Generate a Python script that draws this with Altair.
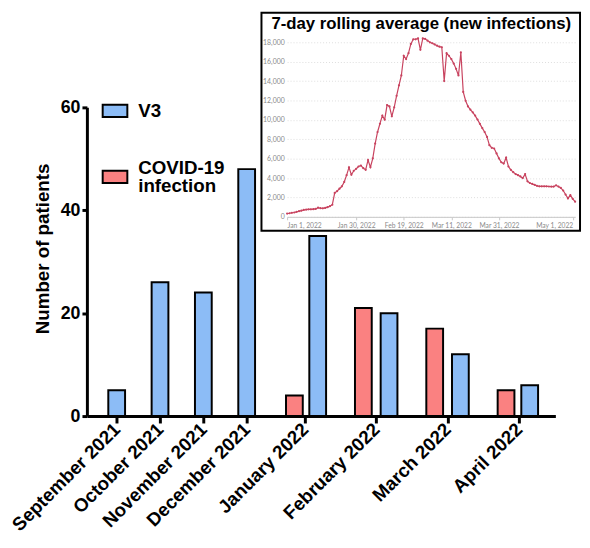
import json
import altair as alt
import pandas as pd

# ---------------- main bar chart data ----------------
months = ["September 2021", "October 2021", "November 2021", "December 2021",
          "January 2022", "February 2022", "March 2022", "April 2022"]
v3_counts = [5, 26, 24, 48, 35, 20, 12, 6]
covid_months = ["January 2022", "February 2022", "March 2022", "April 2022"]
covid_counts = [4, 21, 17, 5]
series_order = ["V3", "COVID-19 infection"]
series_colors = ["#8cbcf6", "#fa8181"]
y_ticks = [0, 20, 40, 60]

# ---------------- inset data (7-day rolling average, daily from 1 Jan 2022) ----------------
inset_title = "7-day rolling average (new infections)"
inset_start = "2022-01-01"
rolling_avg = [
    340, 370, 420, 450, 520, 580, 640, 710, 750, 780,
    780, 790, 820, 950, 890, 880, 920, 1000, 1100, 1250,
    2470, 2650, 2900, 3150, 3600, 4300, 5100, 4340, 4750, 4950,
    5190, 5290, 5020, 4850, 5860, 5120, 6030, 7560, 8750, 9600,
    10440, 10030, 11530, 11390, 10370, 11290, 12480, 13560, 14580, 16610,
    16270, 16880, 17830, 18310, 18310, 18400, 17220, 18400, 18350, 18170,
    18000, 17900, 17780, 17650, 17550, 17490, 14000, 16880, 16610, 16270,
    15800, 15260, 14580, 16950, 12880, 11970, 11390, 11050, 10780, 10440,
    10030, 9590, 9150, 8750, 8240, 7390, 7120, 7050, 6540, 6030,
    5630, 5490, 6100, 5190, 4850, 4610, 4410, 4300, 4170, 4000,
    4410, 3660, 3490, 3390, 3300, 3200, 3150, 3150, 3150, 3150,
    3130, 3120, 3120, 3250, 3120, 2980, 2710, 2300, 1900, 2240,
    1860, 1560,
]
inset_tick_dates = ["2022-01-01", "2022-01-30", "2022-02-19", "2022-03-11",
                    "2022-03-31", "2022-05-01"]
inset_y_ticks = [0, 2000, 4000, 6000, 8000, 10000, 12000, 14000, 16000, 18000]

# ---------------- tables ----------------
rows = [{"month": m, "idx": months.index(m), "series": "V3", "patients": c}
        for m, c in zip(months, v3_counts)]
rows += [{"month": m, "idx": months.index(m), "series": "COVID-19 infection", "patients": c}
         for m, c in zip(covid_months, covid_counts)]
bar_df = pd.DataFrame(rows)

inset_df = pd.DataFrame({
    "date": pd.date_range(inset_start, periods=len(rolling_avg), freq="D").strftime("%Y-%m-%dT00:00:00"),
    "cases": rolling_avg,
})

def to_dt(s):
    y, m, d = (int(v) for v in s.split("-"))
    return alt.DateTime(year=y, month=m, date=d)

FONT = "Liberation Sans"
RED_LINE = "#c8435f"

# ---------------- bars ----------------
bars = alt.Chart(bar_df).transform_joinaggregate(
    n="count()", groupby=["month"]
).transform_calculate(
    pos="datum.idx + (datum.n > 1 ? (datum.series == 'V3' ? 0.18 : -0.18) : 0)"
).mark_bar(size=17, stroke="black", strokeWidth=2).encode(
    x=alt.X("pos:Q",
            scale=alt.Scale(domain=[-0.6, 3, 4, 7, 7.52], range=[0, 162, 221, 438, 475],
                            zero=False, nice=False),
            axis=alt.Axis(orient="bottom", values=list(range(len(months))),
                          labelExpr=json.dumps(months) + "[datum.value]",
                          title=None, grid=False, labelAngle=-45, labelAlign="right",
                          labelBaseline="middle", labelFont=FONT, labelFontSize=19,
                          labelFontWeight="bold", labelColor="black", labelPadding=3,
                          labelOverlap=False, labelFlush=False, labelBound=False,
                          labelLimit=0,
                          tickSize=7, tickWidth=3, tickColor="black",
                          domainWidth=3, domainColor="black")),
    y=alt.Y("patients:Q",
            scale=alt.Scale(domain=[0, 60], nice=False),
            axis=alt.Axis(orient="left", values=y_ticks, title="Number of patients",
                          grid=False, labelFont=FONT, labelFontSize=18,
                          labelFontWeight="bold", labelColor="black", labelPadding=2,
                          tickSize=5, tickWidth=3, tickColor="black",
                          domainWidth=3, domainColor="black",
                          titleFont=FONT, titleFontSize=19, titleFontWeight="bold",
                          titleColor="black", titlePadding=8, titleY=143)),
    color=alt.Color("series:N",
                    scale=alt.Scale(domain=series_order, range=series_colors),
                    legend=alt.Legend(orient="none", legendX=15, legendY=-10, title=None,
                                      symbolType="M-1,-0.5H1V0.5H-1Z", symbolSize=625,
                                      symbolStrokeColor="black", symbolStrokeWidth=2,
                                      symbolOpacity=1,
                                      labelFont=FONT, labelFontSize=19,
                                      labelFontWeight="bold", labelColor="black",
                                      labelOffset=10, rowPadding=38, labelLimit=0,
                                      labelBaseline=alt.expr("datum.value == 'COVID-19 infection' ? 'line-bottom' : 'middle'"),
                                      labelExpr="datum.label == 'COVID-19 infection' ? ['COVID-19', 'infection'] : datum.label")),
)

# ---------------- inset ----------------
frame = alt.Chart(alt.InlineData(values=[{"k": 1}])).mark_rect(
    filled=False, stroke="black", strokeWidth=2
).encode(x=alt.value(177), x2=alt.value(500), y=alt.value(-96), y2=alt.value(125))

title_text = alt.Chart(alt.InlineData(values=[{"k": 1}])).mark_text(
    text=inset_title, font=FONT, fontSize=17, fontWeight="bold", color="black",
    align="center", baseline="alphabetic"
).encode(x=alt.value(339), y=alt.value(-79))

line = alt.Chart(inset_df).mark_line(
    color=RED_LINE, strokeWidth=1.2,
    point=alt.OverlayMarkDef(size=5, filled=True, color=RED_LINE)
).encode(
    x=alt.X("date:T",
            scale=alt.Scale(range=[203, 495], nice=False),
            axis=alt.Axis(orient="bottom", offset=-202,
                          values=[to_dt(s) for s in inset_tick_dates],
                          format="%b %-d, %Y", title=None, grid=False,
                          labelFont="Lato", labelFontSize=6.8, labelColor="#8a8a8a",
                          labelPadding=3, labelFlush=6, labelOverlap=False, labelAngle=0,
                          tickSize=3, tickColor="#c8c8c8", domainColor="#c8c8c8",
                          domainWidth=1)),
    y=alt.Y("cases:Q",
            scale=alt.Scale(domain=[0, 18000], range=[111, -66], nice=False, zero=True),
            axis=alt.Axis(orient="left", offset=-203, values=inset_y_ticks,
                          labelExpr="datum.value == 0 ? '0' : floor(datum.value / 1000) + ',000'",
                          title=None, grid=True, gridColor="#dddddd", gridDash=[1, 2],
                          gridWidth=1, domain=False, ticks=False,
                          labelFont="Lato", labelFontSize=7, labelColor="#8a8a8a",
                          labelPadding=3)),
)

chart = alt.layer(frame, bars, line, title_text).resolve_scale(
    x="independent", y="independent", color="independent"
).resolve_axis(
    x="independent", y="independent"
).properties(
    width=475, height=313,
    padding={"left": 80, "top": 97, "right": 27, "bottom": 130},
    autosize=alt.AutoSizeParams(type="none"),
).configure(
    font=FONT,
    style={"guide-label": {"lineHeight": 18}},
    view=alt.ViewConfig(stroke=None),
)

chart.save("out.html", embed_options={"renderer": "svg", "actions": False})
